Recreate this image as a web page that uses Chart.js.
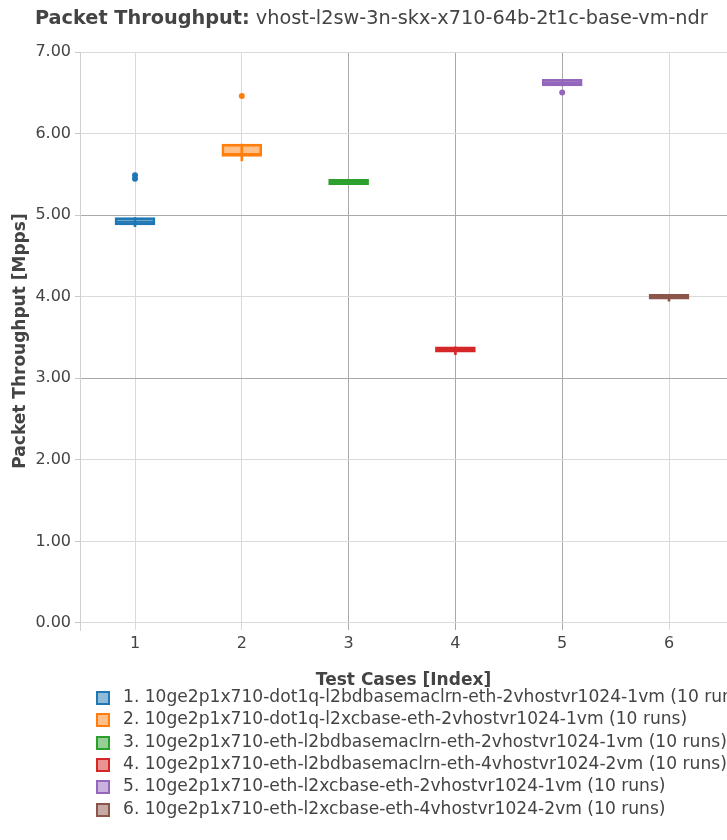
<!DOCTYPE html>
<html>
<head>
<meta charset="utf-8">
<script src="https://cdn.jsdelivr.net/npm/chart.js@4/dist/chart.umd.min.js"></script>
<style>
  html, body { margin: 0; padding: 0; background: #fff; }
  body { width: 727px; height: 840px; position: relative; overflow: hidden; font-family: "DejaVu Sans", sans-serif; color: #444; }
  #wrap { position: absolute; left: 0; top: 0; width: 727px; height: 700px; }
  #title { position: absolute; left: 35px; top: 6px; font-size: 19.3px; white-space: nowrap; color: #444; }
  #title b { font-weight: bold; }
  #legend { position: absolute; left: 0; top: 686px; width: 727px; }
  .row { position: absolute; left: 0; height: 22px; white-space: nowrap; font-size: 17.1px; }
  .sw { position: absolute; left: 96px; top: 5px; width: 10px; height: 10px; border: 2px solid; }
  .lt { position: absolute; left: 123px; top: 0px; }
</style>
</head>
<body>
<div id="wrap"><canvas id="c" width="727" height="700"></canvas></div>
<div id="title"><b>Packet Throughput:</b> vhost-l2sw-3n-skx-x710-64b-2t1c-base-vm-ndr</div>
<div id="legend"></div>
<script>
// ---- data ----
const categories = [1, 2, 3, 4, 5, 6];
const seriesNames = [
  "1. 10ge2p1x710-dot1q-l2bdbasemaclrn-eth-2vhostvr1024-1vm (10 runs)",
  "2. 10ge2p1x710-dot1q-l2xcbase-eth-2vhostvr1024-1vm (10 runs)",
  "3. 10ge2p1x710-eth-l2bdbasemaclrn-eth-2vhostvr1024-1vm (10 runs)",
  "4. 10ge2p1x710-eth-l2bdbasemaclrn-eth-4vhostvr1024-2vm (10 runs)",
  "5. 10ge2p1x710-eth-l2xcbase-eth-2vhostvr1024-1vm (10 runs)",
  "6. 10ge2p1x710-eth-l2xcbase-eth-4vhostvr1024-2vm (10 runs)"
];
const q1Values      = [4.88, 5.72, 5.375, 3.32, 6.585, 3.97];
const medianValues  = [4.92, 5.75, 5.41, 3.35, 6.62, 4.00];
const q3Values      = [4.97, 5.87, 5.44, 3.385, 6.665, 4.03];
const lowWhiskers   = [4.86, 5.665, 5.375, 3.29, 6.585, 3.945];
const highWhiskers  = [4.97, 5.87, 5.44, 3.385, 6.665, 4.03];
const outlierValues = [[5.49, 5.445], [6.46], [], [], [6.505], []];
const yTickValues = [0, 1, 2, 3, 4, 5, 6, 7];
const xTickValues = [1, 2, 3, 4, 5, 6];
const colors = ['#1f77b4', '#ff7f0e', '#2ca02c', '#d62728', '#9467bd', '#8c564b'];

function rgba(hex, a) {
  const n = parseInt(hex.slice(1), 16);
  return `rgba(${(n >> 16) & 255},${(n >> 8) & 255},${n & 255},${a})`;
}

const datasets = [];
categories.forEach((c, i) => {
  datasets.push({
    type: 'bar', label: seriesNames[i] + ' whisker', grouped: false, order: 5,
    data: [{ x: c, y: [lowWhiskers[i], highWhiskers[i]] }],
    backgroundColor: colors[i], borderWidth: 0, barThickness: 2
  });
  datasets.push({
    type: 'bar', label: seriesNames[i], grouped: false, order: 4,
    data: [{ x: c, y: [q1Values[i], q3Values[i]] }],
    backgroundColor: rgba(colors[i], 0.5), borderColor: colors[i], borderWidth: 2,
    borderSkipped: false, barThickness: 40
  });
  datasets.push({
    type: 'scatter', label: seriesNames[i] + ' median', order: 2,
    data: [{ x: c, y: medianValues[i] }],
    pointStyle: 'line', pointRadius: 18, borderColor: colors[i], borderWidth: 2, backgroundColor: colors[i]
  });
  datasets.push({
    type: 'scatter', label: seriesNames[i] + ' outliers', order: 1,
    data: outlierValues[i].map(v => ({ x: c, y: v })),
    pointStyle: 'circle', pointRadius: 3, borderWidth: 0, backgroundColor: colors[i]
  });
});

const darkX = [3, 4, 5], darkY = [3, 5];
new Chart(document.getElementById('c'), {
  type: 'bar',
  data: { datasets },
  options: {
    responsive: false, animation: false, events: [],
    layout: { padding: { top: 52, right: 0, left: 0, bottom: 0 }, autoPadding: false },
    plugins: { legend: { display: false }, tooltip: { enabled: false }, title: { display: false } },
    scales: {
      x: {
        type: 'linear', min: 0.485, max: 6.543, offset: false,
        afterBuildTicks: s => { s.ticks = xTickValues.map(v => ({ value: v })); },
        afterFit: s => { s.height = 70; },
        grid: { drawTicks: false, lineWidth: 1, offset: false,
          color: ctx => darkX.includes(ctx.tick && ctx.tick.value) ? '#a9a9a9' : '#dadada' },
        border: { display: false },
        ticks: { color: '#444', font: { family: 'DejaVu Sans', size: 16 }, padding: 4, maxRotation: 0,
          callback: v => String(v) },
        title: { display: true, text: 'Test Cases [Index]', color: '#444',
          font: { family: 'DejaVu Sans', size: 17, weight: 'bold' }, padding: { top: 0, bottom: 9 } }
      },
      y: {
        type: 'linear', min: -0.086, max: 7.0,
        afterBuildTicks: s => { s.ticks = yTickValues.map(v => ({ value: v })); },
        afterFit: s => { s.width = 80; },
        grid: { drawTicks: true, tickLength: 5, lineWidth: 1,
          color: ctx => darkY.includes(ctx.tick && ctx.tick.value) ? '#a9a9a9' : '#dadada',
          tickColor: '#c8c8c8' },
        border: { display: true, color: '#d0d0d0' },
        ticks: { color: '#444', font: { family: 'DejaVu Sans', size: 16 }, padding: 4,
          callback: v => Number(v).toFixed(2) },
        title: { display: true, text: 'Packet Throughput [Mpps]', color: '#444',
          font: { family: 'DejaVu Sans', size: 17, weight: 'bold' }, padding: { top: 10, bottom: 0 } }
      }
    }
  }
});

// legend (HTML)
const leg = document.getElementById('legend');
seriesNames.forEach((name, i) => {
  const r = document.createElement('div');
  r.className = 'row';
  r.style.top = (i * 22.3) + 'px';
  const sw = document.createElement('div');
  sw.className = 'sw';
  sw.style.borderColor = colors[i];
  sw.style.background = rgba(colors[i], 0.5);
  const t = document.createElement('div');
  t.className = 'lt';
  t.textContent = name;
  r.appendChild(sw); r.appendChild(t);
  leg.appendChild(r);
});
</script>
</body>
</html>
